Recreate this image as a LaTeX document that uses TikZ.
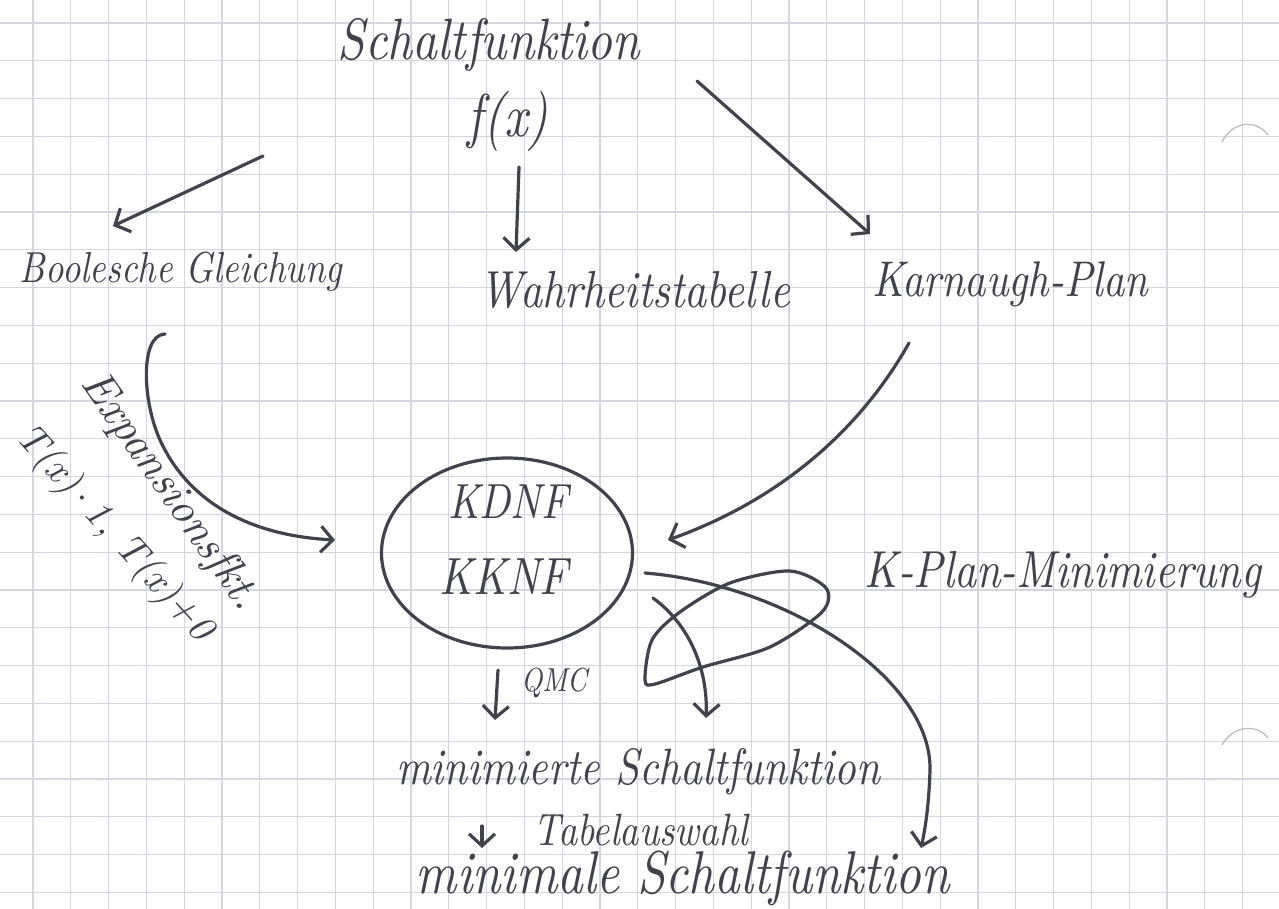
\documentclass[tikz,border=0pt]{standalone}
\usepackage{graphicx}
\usetikzlibrary{arrows.meta,shapes.geometric}
\definecolor{inkc}{RGB}{66,66,74}
\definecolor{gridc}{RGB}{214,215,222}
\definecolor{holec}{RGB}{185,185,190}
\newcommand{\hw}[2]{\scalebox{1}[1.2]{\resizebox{#1pt}{!}{\itshape #2}}}
\newcommand{\hwr}[2]{\resizebox{#1pt}{!}{\itshape #2}}
\tikzset{
  ink/.style={draw=inkc, line width=1.6pt, line cap=round, line join=round},
  conn/.style={ink, -{Straight Barb[length=6pt,width=13pt]}},
  hand/.style={text=inkc, inner sep=0pt, anchor=center},
  gridln/.style={draw=gridc, line width=0.6pt},
  formbox/.style={ink, ellipse, inner sep=0pt, minimum width=125.5pt, minimum height=95pt},
}
\begin{document}
\begin{tikzpicture}[x=0.5pt,y=-0.5pt]
\fill[white] (0,0) rectangle (1279,909);
\useasboundingbox (0,0) rectangle (1279,909);
% grid paper
\foreach \k in {0,...,32} \draw[gridln] ({33+37.8*\k},0) -- ({33+37.8*\k},909);
\foreach \k in {0,...,23} \draw[gridln] (0,{23+37.8*\k}) -- (1279,{23+37.8*\k});
% punch hole marks
\draw[holec, line width=0.6pt] (1222,142) .. controls (1232,122) and (1255,118) .. (1268,135);
\draw[holec, line width=0.6pt] (1222,745) .. controls (1232,727) and (1255,722) .. (1268,738);

% texts
\node[hand] (sf) at (489,45) {\hw{151}{Schaltfunktion}};
\node[hand] (fx) at (508,121) {\hw{40}{f(x)}};
\node[hand] (bg) at (181,272) {\hw{161}{Boolesche Gleichung}};
\node[hand] (wt) at (635,290) {\hw{155}{Wahrheitstabelle}};
\node[hand] (kp) at (1010,284) {\hw{138}{Karnaugh-Plan}};
\node[formbox] (kf) at (507,553) {};
\node[hand] (kdnf) at (508,502) {\hw{60}{KDNF}};
\node[hand] (kknf) at (504,577) {\hw{64}{KKNF}};
\node[hand, rotate=-55] (exp) at (170,492) {\hwr{140}{Expansionsfkt.}};
\node[hand, rotate=-48] (tx) at (114,534) {\hwr{138}{T(x)\,$\cdot$\,1, T(x)+0}};
\node[hand] (kpm) at (1063,575) {\hw{198}{K-Plan-Minimierung}};
\node[hand] (qmc) at (554,683) {\hw{33}{QMC}};
\node[hand] (msf) at (638,772) {\hw{242}{minimierte Schaltfunktion}};
\node[hand] (tab) at (641,830) {\hw{107}{Tabelauswahl}};
\node[hand] (mlsf) at (683,878) {\hw{267}{minimale Schaltfunktion}};

% connector end points
\coordinate (a1s) at (263,156); \coordinate (a1e) at (113,226);
\coordinate (a2s) at (519,167); \coordinate (a2e) at (516,252);
\coordinate (a3s) at (697,81);  \coordinate (a3e) at (870,234);
\coordinate (a4s) at (909,343); \coordinate (a4e) at (668,540);
\coordinate (a5s) at (165,334); \coordinate (a5e) at (335,540);
\coordinate (a6s) at (498,670); \coordinate (a6e) at (495,720);
\coordinate (a7s) at (653,598); \coordinate (a7e) at (706,718);
\coordinate (a8s) at (645,573); \coordinate (a8e) at (921,848);
\coordinate (a9s) at (482,826); \coordinate (a9e) at (482,848);

% connectors
\draw[conn] (a1s) -- (a1e);
\draw[conn] (a2s) -- (a2e);
\draw[conn] (a3s) -- (a3e);
\draw[conn] (a4s) .. controls (860,430) and (780,500) .. (a4e);
\draw[conn] (a5s) .. controls (140,335) and (142,400) .. (160,440) .. controls (185,495) and (240,535) .. (a5e);
\draw[conn] (a6s) -- (a6e);
\draw[conn] (a7s) .. controls (690,625) and (708,670) .. (a7e);
\draw[conn] (a8s) .. controls (790,585) and (932,680) .. (930,770) .. controls (929,805) and (925,830) .. (a8e);
\draw[conn] (a9s) -- (a9e);

% K-Plan minimisation loop
\draw[ink] plot[smooth cycle] coordinates {(645,680) (652,640) (680,612) (730,583) (790,571) (826,588) (822,612) (770,647) (703,667) (655,684)};
\end{tikzpicture}
\end{document}
